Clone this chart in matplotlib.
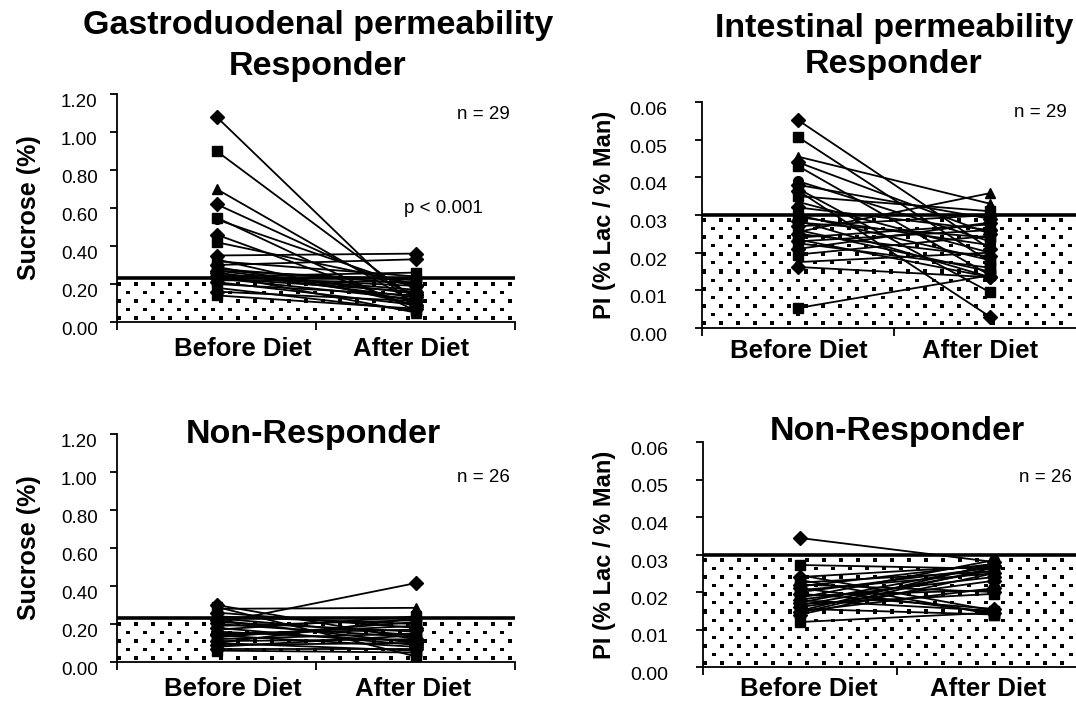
import numpy as np
import matplotlib
matplotlib.use("Agg")
import matplotlib.pyplot as plt

plt.rcParams['font.family'] = ['Liberation Sans', 'DejaVu Sans']

categories = ['Before Diet', 'After Diet']

# sucrose (%) - responders, n = 29
suc_resp_before = [1.08, 0.90, 0.70, 0.62, 0.55, 0.54, 0.46, 0.42, 0.35, 0.33,
                   0.32, 0.30, 0.29, 0.28, 0.27, 0.27, 0.26, 0.25, 0.25, 0.24,
                   0.24, 0.23, 0.23, 0.22, 0.21, 0.20, 0.18, 0.16, 0.14]
suc_resp_after = [0.07, 0.12, 0.10, 0.14, 0.06, 0.18, 0.08, 0.20, 0.36, 0.09,
                  0.24, 0.33, 0.11, 0.20, 0.15, 0.22, 0.13, 0.17, 0.05, 0.19,
                  0.26, 0.12, 0.16, 0.21, 0.09, 0.14, 0.06, 0.11, 0.07]

# sucrose (%) - non-responders, n = 26
suc_non_before = [0.30, 0.29, 0.28, 0.26, 0.24, 0.23, 0.22, 0.21, 0.205, 0.20,
                  0.19, 0.18, 0.17, 0.16, 0.15, 0.14, 0.14, 0.13, 0.12, 0.11,
                  0.10, 0.10, 0.09, 0.08, 0.07, 0.06]
suc_non_after = [0.12, 0.03, 0.285, 0.18, 0.20, 0.14, 0.10, 0.16, 0.415, 0.13,
                 0.22, 0.09, 0.24, 0.11, 0.17, 0.19, 0.08, 0.21, 0.15, 0.12,
                 0.06, 0.23, 0.10, 0.14, 0.07, 0.05]

# PI (% Lac / % Man) - responders, n = 29
pi_resp_before = [0.0552, 0.0507, 0.0455, 0.0440, 0.0430, 0.0390, 0.0380, 0.0370,
                  0.0365, 0.0350, 0.0335, 0.0320, 0.0300, 0.0295, 0.0285, 0.0280,
                  0.0270, 0.0260, 0.0255, 0.0250, 0.0240, 0.0235, 0.0230, 0.0225,
                  0.0210, 0.0195, 0.0175, 0.0162, 0.0053]
pi_resp_after = [0.0210, 0.0175, 0.0330, 0.0250, 0.0140, 0.0230, 0.0290, 0.0095,
                 0.0030, 0.0310, 0.0200, 0.0260, 0.0180, 0.0220, 0.0135, 0.0240,
                 0.0300, 0.0150, 0.0358, 0.0190, 0.0275, 0.0135, 0.0260, 0.0160,
                 0.0280, 0.0245, 0.0200, 0.0135, 0.0140]

# PI (% Lac / % Man) - non-responders, n = 26
pi_non_before = [0.0344, 0.0272, 0.0245, 0.0240, 0.0232, 0.0225, 0.0220, 0.0215,
                 0.0210, 0.0205, 0.0200, 0.0195, 0.0190, 0.0185, 0.0180, 0.0178,
                 0.0172, 0.0168, 0.0165, 0.0160, 0.0155, 0.0150, 0.0148, 0.0145,
                 0.0140, 0.0120]
pi_non_after = [0.0280, 0.0262, 0.0150, 0.0270, 0.0140, 0.0255, 0.0200, 0.0275,
                0.0145, 0.0250, 0.0265, 0.0155, 0.0205, 0.0285, 0.0240, 0.0150,
                0.0270, 0.0195, 0.0258, 0.0230, 0.0140, 0.0275, 0.0210, 0.0265,
                0.0250, 0.0145]

suc_cutoff = 0.23
pi_cutoff = 0.03

markers = ['D', 's', '^', 'D', 's', 'o', 'D', 's']

W, H = 1076, 701
fig = plt.figure(figsize=(W / 100, H / 100), dpi=100)


def px_axes(left, top, right, bottom):
    return fig.add_axes([left / W, 1 - bottom / H, (right - left) / W, (bottom - top) / H])


def dots(ax, cutoff, ymax):
    # dotted fill below the cut-off line
    bb = ax.get_position()
    w = int(round(bb.width * W))
    h = int(round(bb.height * H * cutoff / ymax))
    r, c = np.mgrid[0:h, 0:w]
    r = r - 4
    p = 8.5
    i = np.floor(r / p)
    j = np.floor(c / p)
    on = (r >= 0) & ((r - i * p) < 3.4) & ((c - j * p) < 3.6) & ((i + j) % 2 == 0)
    ax.imshow(on.astype(float), cmap='gray_r', vmin=0, vmax=1, extent=(0, 2, 0, cutoff),
              aspect='auto', interpolation='nearest', zorder=0)


def panel(ax, before, after, cutoff, ymax, yticks, ylabel, ylabel_x, ylabel_size,
          tick_size, tick_pad, cat_x, cat_off, n_text, n_xy):
    dots(ax, cutoff, ymax)
    for k, (b, a) in enumerate(zip(before, after)):
        ax.plot([0.5, 1.5], [b, a], color='black', lw=1.3,
                marker=markers[k % len(markers)], ms=7, mfc='black', mec='black',
                mew=1.0, zorder=3, clip_on=False)
    ax.axhline(cutoff, color='black', lw=2.6, zorder=2)
    ax.set_xlim(0, 2)
    ax.set_ylim(0, ymax)
    for s in ['top', 'right']:
        ax.spines[s].set_visible(False)
    for s in ['left', 'bottom']:
        ax.spines[s].set_linewidth(1.3)
    ax.set_xticks([0, 1, 2])
    ax.set_xticklabels([])
    ax.tick_params(axis='x', direction='out', length=6, width=1.3)
    ax.set_yticks(yticks)
    ax.set_yticklabels(['%.2f' % v for v in yticks], va='top')
    ax.tick_params(axis='y', direction='out', length=5, width=1.3,
                   labelsize=tick_size, pad=tick_pad)
    ax.set_ylabel(ylabel, fontsize=ylabel_size, fontweight='bold')
    ax.yaxis.set_label_coords(ylabel_x, 0.5)
    for xc, name in zip(cat_x, categories):
        ax.annotate(name, xy=(xc, 0), xycoords=('data', 'axes fraction'),
                    xytext=(0, -cat_off), textcoords='offset points',
                    ha='center', va='baseline', fontsize=18.5, fontweight='bold')
    ax.text(n_xy[0], n_xy[1], n_text, ha='right', va='center', fontsize=13.5)


suc_ticks = [0.0, 0.2, 0.4, 0.6, 0.8, 1.0, 1.2]
pi_ticks = [0.0, 0.01, 0.02, 0.03, 0.04, 0.05, 0.06]

ax1 = px_axes(117, 94, 515, 322)
panel(ax1, suc_resp_before, suc_resp_after, suc_cutoff, 1.2, suc_ticks,
      'Sucrose (%)', -0.19, 18, 13.5, 9, [0.63, 1.48], 24.5, 'n = 29', (1.975, 1.09))
ax1.text(1.64, 0.595, 'p < 0.001', ha='center', va='center', fontsize=13.5)

ax2 = px_axes(702, 102, 1086, 328)
panel(ax2, pi_resp_before, pi_resp_after, pi_cutoff, 0.06, pi_ticks,
      'PI (% Lac / % Man)', -0.225, 17, 14, 20, [0.505, 1.45], 21.5, 'n = 29', (1.90, 0.0573))

ax3 = px_axes(117, 434, 515, 662)
panel(ax3, suc_non_before, suc_non_after, suc_cutoff, 1.2, suc_ticks,
      'Sucrose (%)', -0.19, 18, 13.5, 9, [0.58, 1.49], 24.5, 'n = 26', (1.975, 0.97))

ax4 = px_axes(703, 442, 1091, 667)
panel(ax4, pi_non_before, pi_non_after, pi_cutoff, 0.06, pi_ticks,
      'PI (% Lac / % Man)', -0.225, 17, 14, 20, [0.546, 1.47], 21.0, 'n = 26', (1.90, 0.0504))

# titles
title_kw = dict(ha='center', va='baseline', fontsize=24.5, fontweight='bold')
fig.text(318 / W, 1 - 34 / H, 'Gastroduodenal permeability', **title_kw)
fig.text(318 / W, 1 - 75 / H, 'Responder', **title_kw)
fig.text(894 / W, 1 - 37 / H, 'Intestinal permeability', **title_kw)
fig.text(894 / W, 1 - 73 / H, 'Responder', **title_kw)
fig.text(313 / W, 1 - 443 / H, 'Non-Responder', **title_kw)
fig.text(897 / W, 1 - 440 / H, 'Non-Responder', **title_kw)

fig.savefig('out.png', dpi=100)
